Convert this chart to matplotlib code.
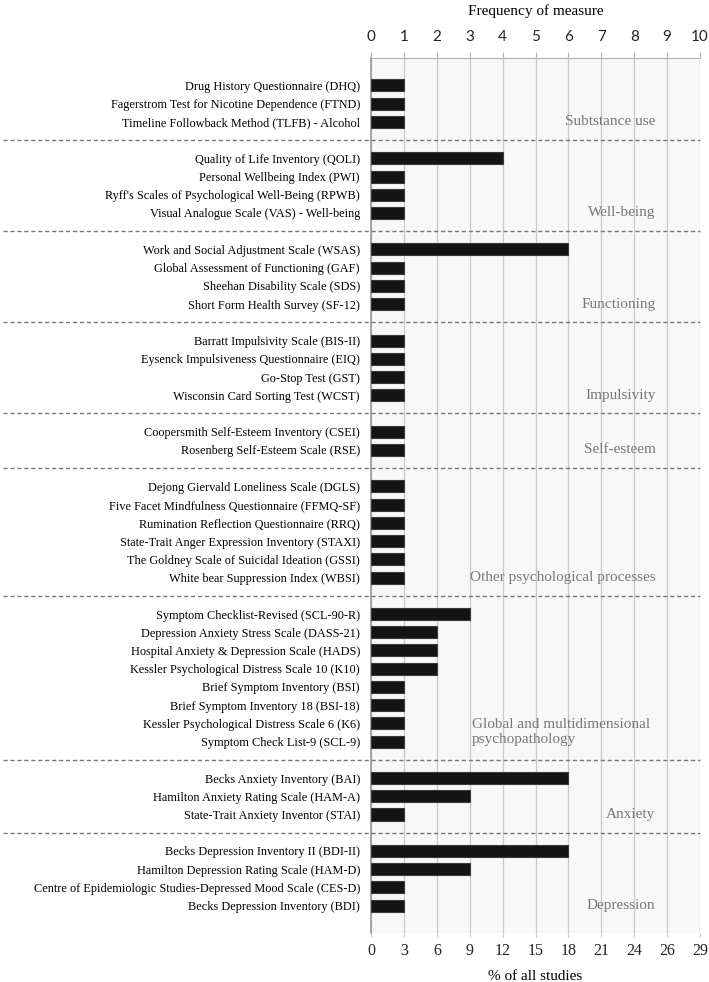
import matplotlib.pyplot as plt
import numpy as np

# measures per group (top to bottom) and how many studies used each
groups = ["Subtstance use", "Well-being", "Functioning", "Impulsivity", "Self-esteem",
          "Other psychological processes", "Global and multidimensional\npsychopathology",
          "Anxiety", "Depression"]

measures = [
    ["Drug History Questionnaire (DHQ)",
     "Fagerstrom Test for Nicotine Dependence (FTND)",
     "Timeline Followback Method (TLFB) - Alcohol"],
    ["Quality of Life Inventory (QOLI)",
     "Personal Wellbeing Index (PWI)",
     "Ryff's Scales of Psychological Well-Being (RPWB)",
     "Visual Analogue Scale (VAS) - Well-being"],
    ["Work and Social Adjustment Scale (WSAS)",
     "Global Assessment of Functioning (GAF)",
     "Sheehan Disability Scale (SDS)",
     "Short Form Health Survey (SF-12)"],
    ["Barratt Impulsivity Scale (BIS-II)",
     "Eysenck Impulsiveness Questionnaire (EIQ)",
     "Go-Stop Test (GST)",
     "Wisconsin Card Sorting Test (WCST)"],
    ["Coopersmith Self-Esteem Inventory (CSEI)",
     "Rosenberg Self-Esteem Scale (RSE)"],
    ["Dejong Giervald Loneliness Scale (DGLS)",
     "Five Facet Mindfulness Questionnaire (FFMQ-SF)",
     "Rumination Reflection Questionnaire (RRQ)",
     "State-Trait Anger Expression Inventory (STAXI)",
     "The Goldney Scale of Suicidal Ideation (GSSI)",
     "White bear Suppression Index (WBSI)"],
    ["Symptom Checklist-Revised (SCL-90-R)",
     "Depression Anxiety Stress Scale (DASS-21)",
     "Hospital Anxiety & Depression Scale (HADS)",
     "Kessler Psychological Distress Scale 10 (K10)",
     "Brief Symptom Inventory (BSI)",
     "Brief Symptom Inventory 18 (BSI-18)",
     "Kessler Psychological Distress Scale 6 (K6)",
     "Symptom Check List-9 (SCL-9)"],
    ["Becks Anxiety Inventory (BAI)",
     "Hamilton Anxiety Rating Scale (HAM-A)",
     "State-Trait Anxiety Inventor (STAI)"],
    ["Becks Depression Inventory II (BDI-II)",
     "Hamilton Depression Rating Scale (HAM-D)",
     "Centre of Epidemiologic Studies-Depressed Mood Scale (CES-D)",
     "Becks Depression Inventory (BDI)"],
]

freqs = [
    [1, 1, 1],
    [4, 1, 1, 1],
    [6, 1, 1, 1],
    [1, 1, 1, 1],
    [1, 1],
    [1, 1, 1, 1, 1, 1],
    [3, 2, 2, 2, 1, 1, 1, 1],
    [6, 3, 1],
    [6, 3, 1, 1],
]

freq_ticks = list(range(11))
pct_labels = ["0", "3", "6", "9", "12", "15", "18", "21", "24", "26", "29"]

serif = "Liberation Serif"
sans = "Lato"

fig = plt.figure(figsize=(7.09, 9.82), dpi=100)
ax = fig.add_axes([0.5233, 0.0499, 0.9873 - 0.5233, 0.9409 - 0.0499])
ax.set_facecolor("#f8f8f8")

# row positions: one blank row between groups
ypos, labels, vals, seps, last_rows = [], [], [], [], []
row = 0
for g in range(len(groups)):
    for name, v in zip(measures[g], freqs[g]):
        ypos.append(row)
        labels.append(name)
        vals.append(v)
        row += 1
    last_rows.append(row - 1)
    if g < len(groups) - 1:
        seps.append(row)
        row += 1

ax.barh(ypos, vals, height=0.66, color="#141414", edgecolor="#3a3a3a", linewidth=0.8, zorder=3)

ax.set_ylim(row - 1 + 1.5, -1.5)
ax.set_xlim(0, 10)

ax.set_yticks(ypos)
ax.set_yticklabels(labels, fontsize=8.85, family=serif)
ax.tick_params(axis="y", length=0, pad=8)

ax.xaxis.tick_top()
ax.xaxis.set_label_position("top")
ax.set_xticks(freq_ticks)
ax.set_xticklabels([str(t) for t in freq_ticks], fontsize=11, family=sans, color="#222222")
ax.tick_params(axis="x", length=4, color="#b0b0b0", pad=6)
ax.set_xlabel("Frequency of measure", fontsize=11, family=serif, labelpad=11)

ax.grid(axis="x", color="#c8c8c8", linewidth=0.9, zorder=0)
ax.set_axisbelow(True)
for s in ["right", "bottom"]:
    ax.spines[s].set_visible(False)
ax.spines["top"].set_color("#b0b0b0")
ax.spines["left"].set_color("#9a9a9a")
ax.spines["left"].set_linewidth(1.2)

# bottom axis: same positions, labelled as % of all studies
sec = ax.secondary_xaxis("bottom")
sec.set_xticks(freq_ticks)
sec.set_xticklabels(pct_labels, fontsize=11.5, family=serif, color="#222222")
sec.tick_params(length=3, color="#c8c8c8", pad=4)
sec.spines["bottom"].set_visible(False)
sec.set_xlabel("% of all studies", fontsize=11, family=serif, labelpad=8)

# dashed group separators reaching into the label area
for s in seps:
    ax.plot([-11.2, 10], [s, s], color="#777777", linestyle=(0, (3, 2)),
            linewidth=1, clip_on=False, zorder=4)

# group names
for g, name in enumerate(groups):
    r = last_rows[g]
    if "\n" in name:
        ax.text(3.07, r - 0.5, name, ha="left", va="center", fontsize=11, family=serif,
                color="#777777", linespacing=1.2)
    else:
        ax.text(8.65, r, name, ha="right", va="center", fontsize=11, family=serif,
                color="#777777")

fig.savefig("out.png", dpi=100)
